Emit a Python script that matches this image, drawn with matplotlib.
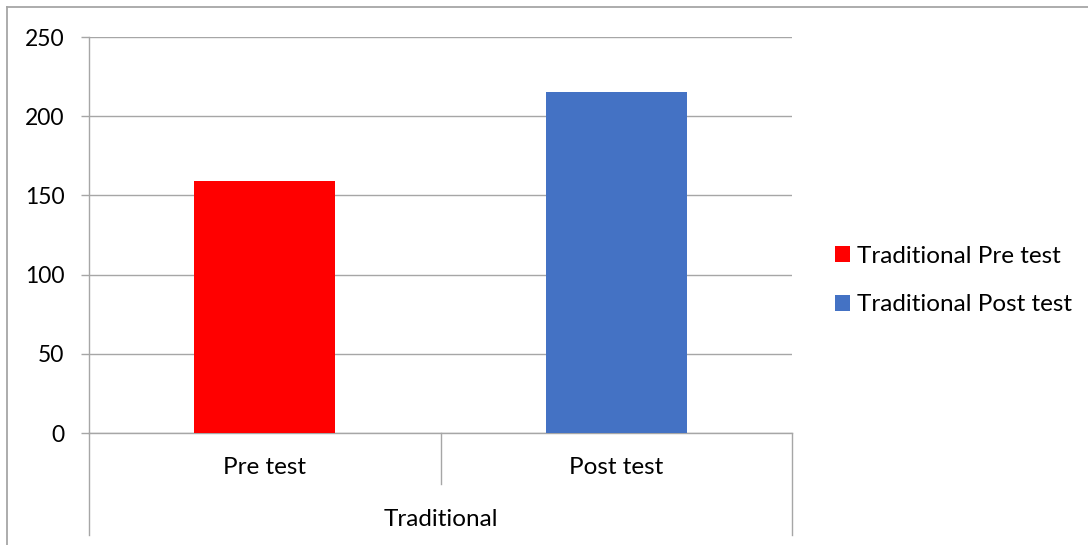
import matplotlib
matplotlib.use("Agg")
import matplotlib.pyplot as plt
from matplotlib.lines import Line2D
from matplotlib.patches import Patch

plt.rcParams['font.family'] = ['Lato', 'DejaVu Sans']

categories = ["Pre test", "Post test"]
group_label = "Traditional"
series_names = ["Traditional Pre test", "Traditional Post test"]
values = [159, 215]
colors = ["#FF0000", "#4472C4"]
yticks = [0, 50, 100, 150, 200, 250]

W, H = 1088, 545
fig = plt.figure(figsize=(W / 100, H / 100), dpi=100)
fig.patch.set_facecolor("white")

# chart border (top and left visible)
grey = "#A6A6A6"
fig.add_artist(Line2D([7 / W, 1], [1 - 7 / H, 1 - 7 / H], transform=fig.transFigure, color=grey, lw=1.3))
fig.add_artist(Line2D([7 / W, 7 / W], [0, 1 - 7 / H], transform=fig.transFigure, color=grey, lw=1.3))

left, right, top, bottom = 89, 792, 37, 433
ax = fig.add_axes([left / W, 1 - bottom / H, (right - left) / W, (bottom - top) / H])
ax.set_xlim(-0.5, 1.5)
ax.set_ylim(0, 250)

for i, (v, c) in enumerate(zip(values, colors)):
    ax.bar(i, v, width=0.4, color=c, zorder=3, label=series_names[i])

ax.set_yticks(yticks)
ax.yaxis.grid(True, color=grey, lw=1.0, zorder=0)
ax.tick_params(axis='y', length=8 * 0.72, width=1.0, color=grey, direction='out', pad=12, labelsize=16.5)
ax.set_xticks([])
for s in ['top', 'right']:
    ax.spines[s].set_visible(False)
ax.spines['left'].set_color(grey)
ax.spines['bottom'].set_color(grey)
ax.spines['left'].set_linewidth(1.0)
ax.spines['bottom'].set_linewidth(1.0)

hpx = bottom - top
long_drop = (535 - bottom) / hpx
short_drop = (484 - bottom) / hpx
for xa, d in [(0, long_drop), (0.5, short_drop), (1, long_drop)]:
    ax.add_artist(Line2D([xa, xa], [0, -d], transform=ax.transAxes, color=grey, lw=1.0, clip_on=False))

fs = 17.5
for i, cat in enumerate(categories):
    ax.text(i, (bottom - 467) / hpx, cat, transform=ax.get_xaxis_transform(), ha='center', va='center', fontsize=fs)
ax.text(0.5, (bottom - 519) / hpx, group_label, transform=ax.transAxes, ha='center', va='center', fontsize=fs)

handles = [Patch(facecolor=c, edgecolor='none') for c in colors]
fig.legend(handles, series_names, loc='center left', bbox_to_anchor=(835 / W, 1 - 280.5 / H),
           frameon=False, fontsize=fs, handlelength=0.62, handleheight=0.62, handletextpad=0.29,
           labelspacing=1.13, borderpad=0, borderaxespad=0)

fig.savefig("out.png", dpi=100, facecolor="white")
